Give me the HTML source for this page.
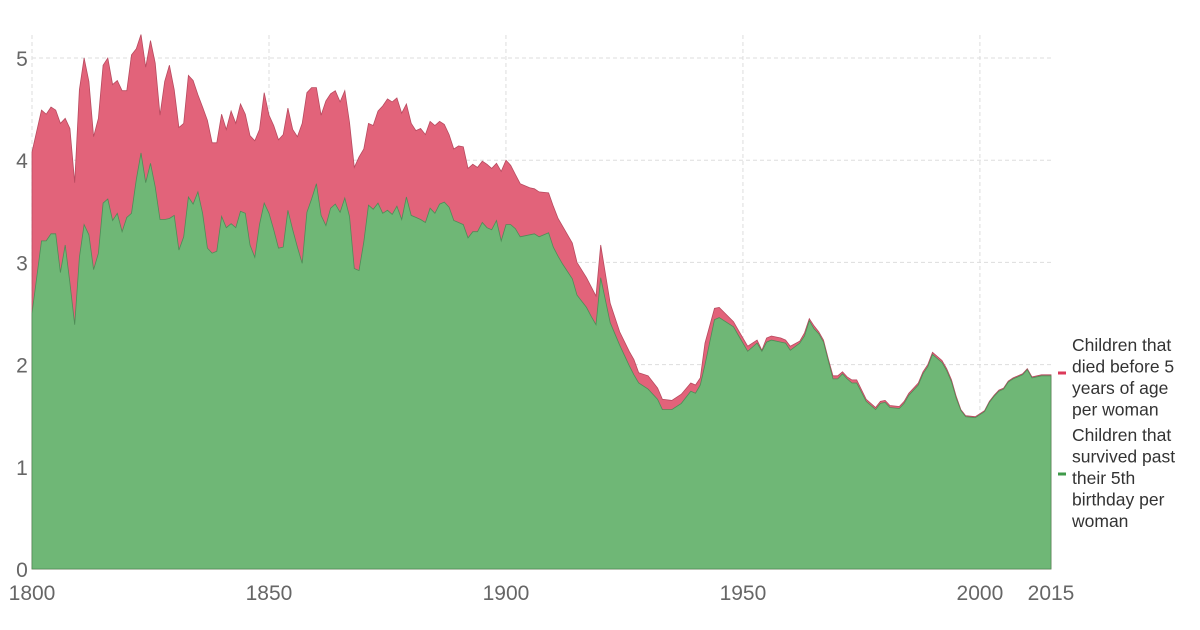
<!DOCTYPE html>
<html><head><meta charset="utf-8"><style>
body{margin:0;background:#fff;}
svg{display:block;font-family:"Liberation Sans",sans-serif;}
</style></head><body>
<svg id="chart" width="1200" height="630"></svg>
<script>
const years=[1800,1802,1803,1804,1805,1806,1807,1808,1809,1810,1811,1812,1813,1814,1815,1816,1817,1818,1819,1820,1821,1822,1823,1824,1825,1826,1827,1828,1829,1830,1831,1832,1833,1834,1835,1836,1837,1838,1839,1840,1841,1842,1843,1844,1845,1846,1847,1848,1849,1850,1851,1852,1853,1854,1855,1856,1857,1858,1859,1860,1861,1862,1863,1864,1865,1866,1867,1868,1869,1870,1871,1872,1873,1874,1875,1876,1877,1878,1879,1880,1881,1882,1883,1884,1885,1886,1887,1888,1889,1890,1891,1892,1893,1894,1895,1896,1897,1898,1899,1900,1901,1902,1903,1905,1906,1907,1909,1910,1911,1912,1914,1915,1917,1918,1919,1920,1922,1924,1926,1927,1928,1930,1932,1933,1935,1937,1939,1940,1941,1942,1944,1945,1948,1949,1951,1953,1954,1955,1956,1958,1959,1960,1962,1963,1964,1965,1966,1967,1968,1969,1970,1971,1972,1973,1974,1976,1977,1978,1979,1980,1981,1983,1984,1985,1987,1988,1989,1990,1992,1993,1994,1995,1996,1997,1999,2000,2001,2002,2003,2004,2005,2006,2007,2009,2010,2011,2013,2015];
const totalFertility=[4.08,4.49,4.45,4.52,4.49,4.36,4.41,4.31,3.78,4.69,5.0,4.77,4.23,4.41,4.93,5.0,4.74,4.78,4.68,4.68,5.03,5.09,5.23,4.91,5.17,4.95,4.44,4.77,4.93,4.69,4.32,4.36,4.83,4.78,4.64,4.52,4.39,4.17,4.17,4.45,4.30,4.48,4.36,4.55,4.45,4.24,4.19,4.30,4.66,4.44,4.34,4.20,4.25,4.51,4.30,4.23,4.36,4.66,4.71,4.71,4.44,4.58,4.65,4.68,4.57,4.68,4.37,3.93,4.03,4.11,4.36,4.34,4.48,4.53,4.60,4.57,4.61,4.46,4.55,4.36,4.29,4.31,4.25,4.38,4.34,4.38,4.35,4.25,4.11,4.14,4.13,3.92,3.96,3.93,3.99,3.96,3.92,3.97,3.89,4.0,3.95,3.86,3.77,3.73,3.72,3.69,3.68,3.55,3.43,3.35,3.19,3.0,2.85,2.76,2.67,3.17,2.60,2.32,2.13,2.05,1.92,1.89,1.77,1.66,1.65,1.71,1.82,1.80,1.87,2.21,2.55,2.56,2.42,2.34,2.18,2.24,2.14,2.26,2.28,2.26,2.24,2.18,2.23,2.31,2.45,2.38,2.32,2.24,2.06,1.89,1.89,1.93,1.88,1.85,1.85,1.66,1.62,1.58,1.64,1.65,1.60,1.59,1.64,1.72,1.82,1.93,2.00,2.12,2.04,1.96,1.85,1.69,1.56,1.50,1.49,1.52,1.55,1.64,1.70,1.75,1.77,1.84,1.87,1.91,1.96,1.88,1.90,1.90];
const survived=[2.50,3.21,3.21,3.28,3.28,2.90,3.17,2.80,2.39,3.05,3.37,3.27,2.93,3.09,3.58,3.62,3.41,3.48,3.30,3.44,3.48,3.81,4.07,3.78,3.97,3.74,3.42,3.42,3.43,3.46,3.12,3.25,3.64,3.57,3.69,3.48,3.14,3.09,3.11,3.45,3.34,3.38,3.34,3.50,3.48,3.17,3.05,3.37,3.58,3.48,3.32,3.14,3.15,3.51,3.32,3.15,2.99,3.49,3.62,3.77,3.46,3.36,3.53,3.57,3.49,3.63,3.45,2.94,2.92,3.20,3.56,3.52,3.58,3.48,3.51,3.47,3.55,3.42,3.64,3.46,3.44,3.42,3.39,3.53,3.48,3.57,3.59,3.54,3.41,3.39,3.37,3.24,3.30,3.30,3.39,3.34,3.32,3.41,3.21,3.37,3.37,3.33,3.25,3.27,3.28,3.25,3.29,3.15,3.06,2.98,2.84,2.68,2.56,2.47,2.39,2.85,2.41,2.19,1.99,1.90,1.82,1.76,1.66,1.56,1.56,1.62,1.74,1.72,1.80,2.00,2.44,2.46,2.37,2.29,2.13,2.21,2.13,2.22,2.24,2.22,2.21,2.14,2.21,2.28,2.43,2.35,2.30,2.22,2.04,1.86,1.86,1.91,1.86,1.82,1.82,1.64,1.60,1.56,1.62,1.63,1.58,1.57,1.62,1.70,1.80,1.91,1.98,2.10,2.02,1.94,1.83,1.67,1.55,1.49,1.48,1.51,1.54,1.63,1.69,1.74,1.76,1.83,1.86,1.90,1.95,1.87,1.89,1.89];
const yTicks=[0,1,2,3,4,5];
const xTicks=[1800,1850,1900,1950,2000,2015];

const NS="http://www.w3.org/2000/svg";
const svg=document.getElementById('chart');
const X0=32,X1=1051,Y0=569,YU=102.2;
const xs=y=>X0+(y-1800)*(X1-X0)/215;
const ys=v=>Y0-v*YU;
function mk(tag,attrs,parent){const e=document.createElementNS(NS,tag);for(const k in attrs)e.setAttribute(k,attrs[k]);(parent||svg).appendChild(e);return e;}
const N=Math.min(years.length,totalFertility.length,survived.length);

const grid=mk('g',{});


yTicks.forEach(t=>{if(t>0){const l=mk('line',{x1:X0,x2:X1,y1:ys(t),y2:ys(t),stroke:'#ddd','stroke-dasharray':'4,3'},grid);

}});
xTicks.forEach(t=>{if(t!==2015){const l=mk('line',{x1:xs(t),x2:xs(t),y1:35,y2:Y0,stroke:'#ddd','stroke-dasharray':'4,3'},grid);

}});

let topPath='',botPath='';
for(let i=0;i<N;i++){topPath+=(i?'L':'M')+xs(years[i]).toFixed(1)+','+ys(totalFertility[i]).toFixed(1);}
const xEnd=xs(years[N-1]);
const red=mk('path',{d:topPath+`L${xEnd},${Y0}L${xs(years[0])},${Y0}Z`,fill:'#e2637a',stroke:'#b84a5f','stroke-width':0.8});


for(let i=0;i<N;i++){botPath+=(i?'L':'M')+xs(years[i]).toFixed(1)+','+ys(survived[i]).toFixed(1);}
const green=mk('path',{d:botPath+`L${xEnd},${Y0}L${xs(years[0])},${Y0}Z`,fill:'#6fb776',stroke:'#4f8c57','stroke-width':0.8});



yTicks.forEach(t=>{const tx=mk('text',{x:22,y:ys(t)+8,'font-size':21,fill:'#666','text-anchor':'middle'});tx.textContent=t;

});
xTicks.forEach(t=>{const tx=mk('text',{x:xs(t),y:600,'font-size':21,fill:'#666','text-anchor':'middle'});tx.textContent=t;

});

function legend(name,color,my,lines,ty){const g=mk('g',{});


mk('line',{x1:1058,x2:1066,y1:my,y2:my,stroke:color,'stroke-width':3},g);
lines.forEach((s,i)=>{const t=mk('text',{x:1072,y:ty+i*21.5,'font-size':17.5,fill:'#333'},g);t.textContent=s;});}
legend('legend-died-before-5','#dc3a5a',373,['Children that','died before 5','years of age','per woman'],351);
legend('legend-survived','#3f9a4a',474,['Children that','survived past','their 5th','birthday per','woman'],441);
</script>
</body></html>
